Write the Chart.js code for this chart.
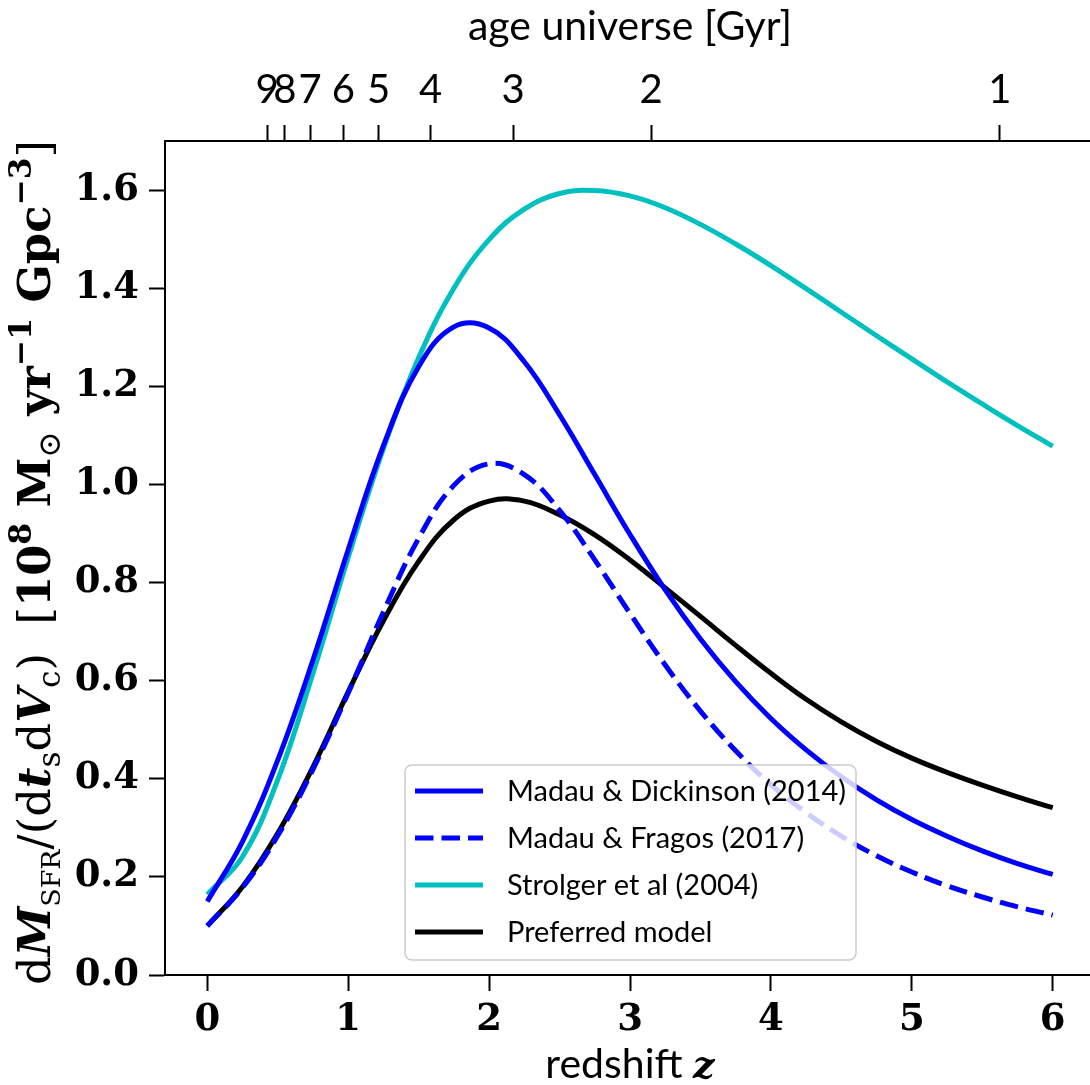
<!DOCTYPE html>
<html>
<head>
<meta charset="utf-8">
<script src="https://cdn.jsdelivr.net/npm/chart.js@4.4.1/dist/chart.umd.min.js"></script>
<style>
  html, body { margin: 0; padding: 0; background: #fff; overflow: hidden; }
  #wrap { width: 1100px; height: 1085px; }
</style>
</head>
<body>
<div id="wrap"><canvas id="sfrChart" width="1100" height="1085"></canvas></div>
<script>
// star formation rate density, units of 1e8 Msun / yr / Gpc^3
const redshift = [0, 0.25, 0.5, 0.75, 1, 1.25, 1.5, 1.75, 2, 2.25, 2.5, 2.75, 3, 3.25, 3.5, 3.75, 4, 4.25, 4.5, 4.75, 5, 5.25, 5.5, 5.75, 6];
const sfrMadauDickinson = [0.150, 0.272, 0.438, 0.642, 0.867, 1.079, 1.240, 1.321, 1.319, 1.250, 1.142, 1.020, 0.898, 0.785, 0.685, 0.598, 0.523, 0.459, 0.404, 0.357, 0.317, 0.283, 0.253, 0.227, 0.205];
const sfrMadauFragos = [0.100, 0.178, 0.284, 0.419, 0.575, 0.740, 0.890, 0.998, 1.042, 1.020, 0.947, 0.846, 0.737, 0.632, 0.538, 0.457, 0.388, 0.331, 0.283, 0.243, 0.210, 0.182, 0.159, 0.139, 0.122];
const sfrStrolger = [0.164, 0.241, 0.398, 0.615, 0.851, 1.073, 1.258, 1.400, 1.499, 1.561, 1.593, 1.599, 1.588, 1.564, 1.530, 1.490, 1.446, 1.399, 1.351, 1.303, 1.256, 1.209, 1.164, 1.120, 1.078];
const sfrPreferred = [0.100, 0.180, 0.289, 0.424, 0.577, 0.722, 0.843, 0.928, 0.966, 0.966, 0.938, 0.897, 0.846, 0.789, 0.731, 0.672, 0.615, 0.562, 0.516, 0.476, 0.442, 0.413, 0.387, 0.363, 0.341];

const redshiftTicks = [0, 1, 2, 3, 4, 5, 6];
const sfrTicks = [0, 0.2, 0.4, 0.6, 0.8, 1.0, 1.2, 1.4, 1.6];
// age of the universe (Gyr) and the redshift where it is reached
const ageLabels = [9, 8, 7, 6, 5, 4, 3, 2, 1];
const ageRedshift = [0.425, 0.55, 0.73, 0.965, 1.215, 1.585, 2.17, 3.15, 5.625];

const SERIF = '"DejaVu Serif", serif';
const SANS = 'Lato, "DejaVu Sans", sans-serif';

const points = (ys) => redshift.map((z, i) => ({ x: z, y: ys[i] }));

const axisStyle = {
  grid: { display: true, drawOnChartArea: false, drawTicks: true, tickLength: 16, tickWidth: 2, tickColor: "#000" },
  border: { display: true, color: "#000", width: 2 },
};

// legend box drawn inside the plot, over the curves
const innerLegend = {
  id: "innerLegend",
  afterDatasetsDraw(chart) {
    const ctx = chart.ctx;
    const x0 = 405, y0 = 765, w = 451, h = 195, r = 7;
    ctx.save();
    ctx.beginPath();
    ctx.roundRect(x0, y0, w, h, r);
    ctx.fillStyle = "rgba(255,255,255,0.8)";
    ctx.fill();
    ctx.lineWidth = 1.5;
    ctx.strokeStyle = "#cccccc";
    ctx.stroke();
    chart.data.datasets.forEach((ds, i) => {
      const y = 791 + i * 47;
      ctx.beginPath();
      ctx.setLineDash(ds.borderDash || []);
      ctx.strokeStyle = ds.borderColor;
      ctx.lineWidth = ds.borderWidth;
      ctx.moveTo(415, y);
      ctx.lineTo(483, y);
      ctx.stroke();
      ctx.setLineDash([]);
      ctx.fillStyle = "#000";
      ctx.font = "29px " + SANS;
      ctx.textBaseline = "middle";
      ctx.textAlign = "left";
      ctx.fillText(ds.label, 507, y + 1);
    });
    ctx.restore();
  },
};

// axis titles with mixed fonts, sub- and superscripts
const axisTitles = {
  id: "axisTitles",
  afterDraw(chart) {
    const ctx = chart.ctx;
    const area = chart.chartArea;
    const cx = (area.left + area.right) / 2;
    ctx.save();
    ctx.fillStyle = "#000";
    ctx.textBaseline = "alphabetic";
    ctx.textAlign = "left";

    ctx.font = "41px " + SANS;
    const top = "age universe [Gyr]";
    ctx.fillText(top, cx - ctx.measureText(top).width / 2, 40);

    const word = "redshift ";
    ctx.font = "41px " + SANS;
    const w1 = ctx.measureText(word).width;
    ctx.font = "italic bold 38px " + SERIF;
    const w2 = ctx.measureText("z").width;
    let x = cx - (w1 + w2) / 2;
    ctx.font = "41px " + SANS;
    ctx.fillText(word, x, 1078);
    ctx.font = "italic bold 38px " + SERIF;
    ctx.fillText("z", x + w1, 1078);

    // [text, style, size factor, baseline shift in em]
    const pieces = [
      ["d", "", 1, 0],
      ["M", "italic bold ", 1, 0],
      ["SFR", "", 0.6, 0.22],
      ["/(d", "", 1, 0],
      ["t", "italic bold ", 1, 0],
      ["s", "", 0.7, 0.22],
      ["d", "", 1, 0],
      ["V", "italic bold ", 1, 0],
      ["c", "", 0.7, 0.22],
      [")", "", 1, 0],
      ["  ", "", 1, 0],
      ["[", "", 1, 0],
      ["10", "bold ", 1, 0],
      ["8", "bold ", 0.7, -0.42],
      [" M", "bold ", 1, 0],
      ["\u2299", "", 0.7, 0.22],
      [" yr", "bold ", 1, 0],
      ["\u22121", "bold ", 0.7, -0.42],
      [" Gpc", "bold ", 1, 0],
      ["\u22123", "bold ", 0.7, -0.42],
      ["]", "", 1, 0],
    ];
    const base = 44;
    let total = 0;
    pieces.forEach((p) => {
      ctx.font = p[1] + (base * p[2]) + "px " + SERIF;
      total += ctx.measureText(p[0]).width;
    });
    const size = base * 845 / total;
    ctx.translate(50, 985);
    ctx.rotate(-Math.PI / 2);
    let pos = 0;
    pieces.forEach((p) => {
      const fs = size * p[2];
      ctx.font = p[1] + fs + "px " + SERIF;
      ctx.fillText(p[0], pos, p[3] * size);
      pos += ctx.measureText(p[0]).width;
    });
    ctx.restore();
  },
};

const ctx = document.getElementById("sfrChart").getContext("2d");
new Chart(ctx, {
  type: "line",
  data: {
    datasets: [
      { label: "Madau & Dickinson (2014)", data: points(sfrMadauDickinson), borderColor: "#0000ff", borderWidth: 5 },
      { label: "Madau & Fragos (2017)", data: points(sfrMadauFragos), borderColor: "#0000ff", borderWidth: 5, borderDash: [18.5, 8] },
      { label: "Strolger et al (2004)", data: points(sfrStrolger), borderColor: "#00bfbf", borderWidth: 5 },
      { label: "Preferred model", data: points(sfrPreferred), borderColor: "#000000", borderWidth: 5 },
    ],
  },
  options: {
    responsive: false,
    animation: false,
    devicePixelRatio: 1,
    layout: { padding: { left: 0, right: 5, top: 0, bottom: 0 } },
    elements: { point: { radius: 0 }, line: { tension: 0.4, borderCapStyle: "butt" } },
    plugins: { legend: { display: false }, tooltip: { enabled: false } },
    scales: {
      x: {
        type: "linear",
        position: "bottom",
        min: -0.3,
        max: 6.3,
        afterBuildTicks: (axis) => { axis.ticks = redshiftTicks.map((v) => ({ value: v })); },
        afterFit: (axis) => { axis.height = 110; },
        ticks: {
          autoSkip: false, maxRotation: 0, padding: 7, color: "#000",
          font: { family: SERIF, size: 37, weight: "bold" },
          callback: (v, i) => String(redshiftTicks[i]),
        },
        ...axisStyle,
      },
      x2: {
        type: "linear",
        position: "top",
        min: -0.3,
        max: 6.3,
        afterBuildTicks: (axis) => { axis.ticks = ageRedshift.map((v) => ({ value: v })); },
        afterFit: (axis) => { axis.height = 141; },
        ticks: {
          autoSkip: false, maxRotation: 0, padding: 11, color: "#000",
          font: { family: SANS, size: 40 },
          callback: (v, i) => String(ageLabels[i]),
        },
        ...axisStyle,
      },
      y: {
        type: "linear",
        position: "left",
        min: 0,
        max: 1.7,
        afterBuildTicks: (axis) => { axis.ticks = sfrTicks.map((v) => ({ value: v })); },
        afterFit: (axis) => { axis.width = 165; },
        ticks: {
          autoSkip: false, padding: 10, color: "#000",
          font: { family: SERIF, size: 37, weight: "bold" },
          callback: (v) => v.toFixed(1),
        },
        ...axisStyle,
      },
    },
  },
  plugins: [innerLegend, axisTitles],
});
</script>
</body>
</html>
